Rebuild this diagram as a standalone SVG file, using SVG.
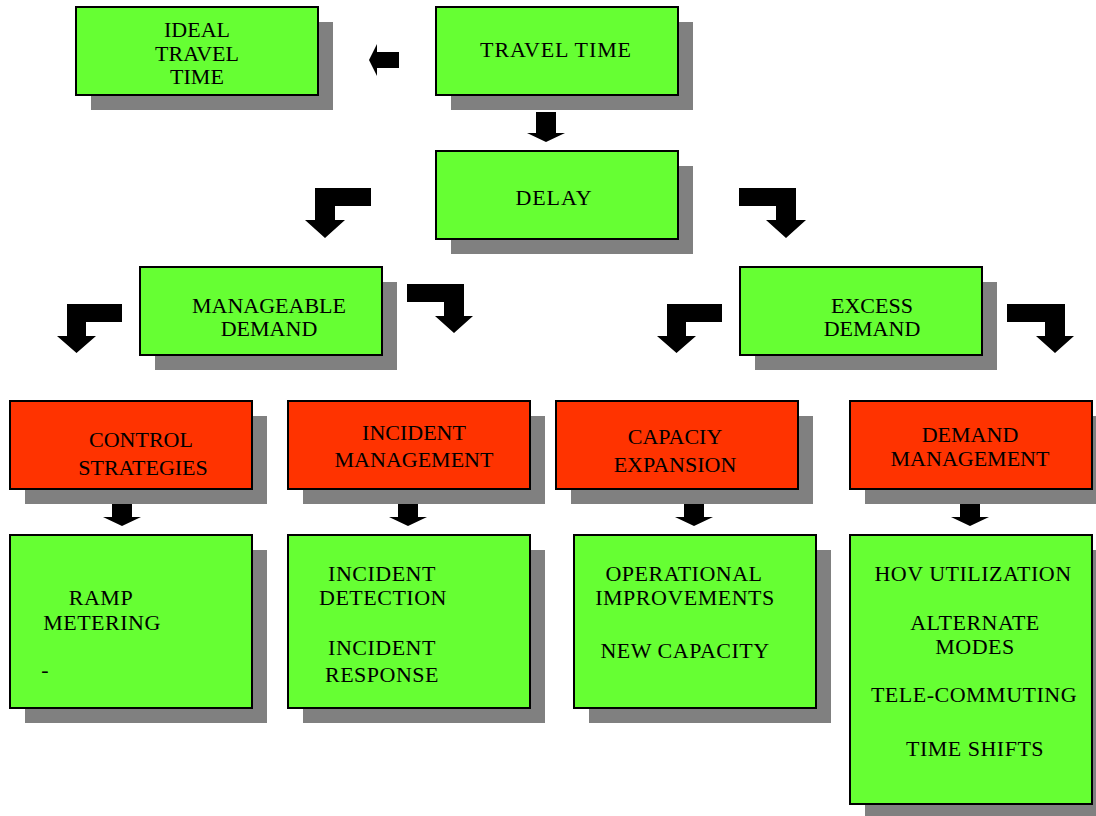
<svg xmlns="http://www.w3.org/2000/svg" width="1096" height="816" viewBox="0 0 1096 816">
<style>
.sh{fill:#808080}
.g{fill:#66FF33;stroke:#000;stroke-width:2}
.r{fill:#FF3300;stroke:#000;stroke-width:2}
text{font-family:"Liberation Serif","Times New Roman",serif;font-size:22px;fill:#000;text-anchor:middle}
.b{letter-spacing:0.5px}
.w{letter-spacing:0.9px}
.ar{fill:#000}
</style>
<defs>
<path id="down" d="M-10,0 H10 V21 H19 L0,30 L-19,21 H-10 Z"/>
</defs>
<rect width="1096" height="816" fill="#fff"/>

<g id="connectors" class="ar">
<path d="M399,52 H377 V44 L369,60 L377,76 V68 H399 Z"/>
<use href="#down" x="546" y="112"/>
<path d="M371,188 H315 V220 H305 L325,238 L345,220 H335 V206 H371 Z"/>
<path d="M739,188 H796 V220 H806 L786,238 L766,220 H776 V206 H739 Z"/>
<path d="M122,304 H67 V336 H57 L76.5,353 L96,336 H86 V322 H122 Z"/>
<path d="M407,284 H464 V316 H473 L454,333 L435,316 H444 V302 H407 Z"/>
<path d="M722,304 H667 V336 H657 L676.5,353 L696,336 H686 V322 H722 Z"/>
<path d="M1007,304 H1065 V336 H1074 L1055,353 L1036,336 H1045 V322 H1007 Z"/>
<use href="#down" x="122" y="496"/>
<use href="#down" x="408" y="496"/>
<use href="#down" x="694" y="496"/>
<use href="#down" x="970" y="496"/>
</g>

<g id="ideal">
<rect class="sh" x="91" y="22" width="242" height="88"/>
<rect class="g" x="76" y="7" width="242" height="88"/>
<text x="197" y="37">IDEAL</text>
<text x="197" y="61">TRAVEL</text>
<text x="197" y="84">TIME</text>
</g>
<g id="travel">
<rect class="sh" x="451" y="22" width="242" height="88"/>
<rect class="g" x="436" y="7" width="242" height="88"/>
<text class="w" x="556" y="57">TRAVEL TIME</text>
</g>
<g id="delay">
<rect class="sh" x="451" y="166" width="242" height="88"/>
<rect class="g" x="436" y="151" width="242" height="88"/>
<text class="w" x="554" y="205">DELAY</text>
</g>
<g id="manageable">
<rect class="sh" x="155" y="282" width="242" height="88"/>
<rect class="g" x="140" y="267" width="242" height="88"/>
<text x="269" y="313">MANAGEABLE</text>
<text x="269" y="336">DEMAND</text>
</g>
<g id="excess">
<rect class="sh" x="755" y="282" width="242" height="88"/>
<rect class="g" x="740" y="267" width="242" height="88"/>
<text x="872" y="313">EXCESS</text>
<text x="872" y="336">DEMAND</text>
</g>
<g id="control">
<rect class="sh" x="25" y="416" width="242" height="88"/>
<rect class="r" x="10" y="401" width="242" height="88"/>
<text x="141" y="447">CONTROL</text>
<text x="143" y="475">STRATEGIES</text>
</g>
<g id="incident">
<rect class="sh" x="303" y="416" width="242" height="88"/>
<rect class="r" x="288" y="401" width="242" height="88"/>
<text x="414" y="440">INCIDENT</text>
<text x="414" y="467">MANAGEMENT</text>
</g>
<g id="capaciy">
<rect class="sh" x="571" y="416" width="242" height="88"/>
<rect class="r" x="556" y="401" width="242" height="88"/>
<text x="675" y="444">CAPACIY</text>
<text x="675" y="472">EXPANSION</text>
</g>
<g id="demandmgmt">
<rect class="sh" x="865" y="416" width="242" height="88"/>
<rect class="r" x="850" y="401" width="242" height="88"/>
<text x="970" y="442">DEMAND</text>
<text x="970" y="466">MANAGEMENT</text>
</g>
<g id="ramp">
<rect class="sh" x="25" y="550" width="242" height="173"/>
<rect class="g" x="10" y="535" width="242" height="173"/>
<text class="b" x="101" y="605">RAMP</text>
<text class="b" x="102" y="630">METERING</text>
<text x="45" y="677">-</text>
</g>
<g id="incdet">
<rect class="sh" x="303" y="550" width="242" height="173"/>
<rect class="g" x="288" y="535" width="242" height="173"/>
<text class="b" x="382" y="581">INCIDENT</text>
<text class="b" x="383" y="605">DETECTION</text>
<text class="b" x="382" y="655">INCIDENT</text>
<text class="b" x="382" y="682">RESPONSE</text>
</g>
<g id="oper">
<rect class="sh" x="589" y="550" width="242" height="173"/>
<rect class="g" x="574" y="535" width="242" height="173"/>
<text class="b" x="684" y="581">OPERATIONAL</text>
<text class="b" x="685" y="605">IMPROVEMENTS</text>
<text class="b" x="685" y="658">NEW CAPACITY</text>
</g>
<g id="hov">
<rect class="sh" x="865" y="550" width="242" height="269"/>
<rect class="g" x="850" y="535" width="242" height="269"/>
<text class="b" x="973" y="581">HOV UTILIZATION</text>
<text class="b" x="975" y="630">ALTERNATE</text>
<text class="b" x="975" y="654">MODES</text>
<text class="b" x="974" y="702">TELE-COMMUTING</text>
<text class="b" x="975" y="756">TIME SHIFTS</text>
</g>
</svg>
